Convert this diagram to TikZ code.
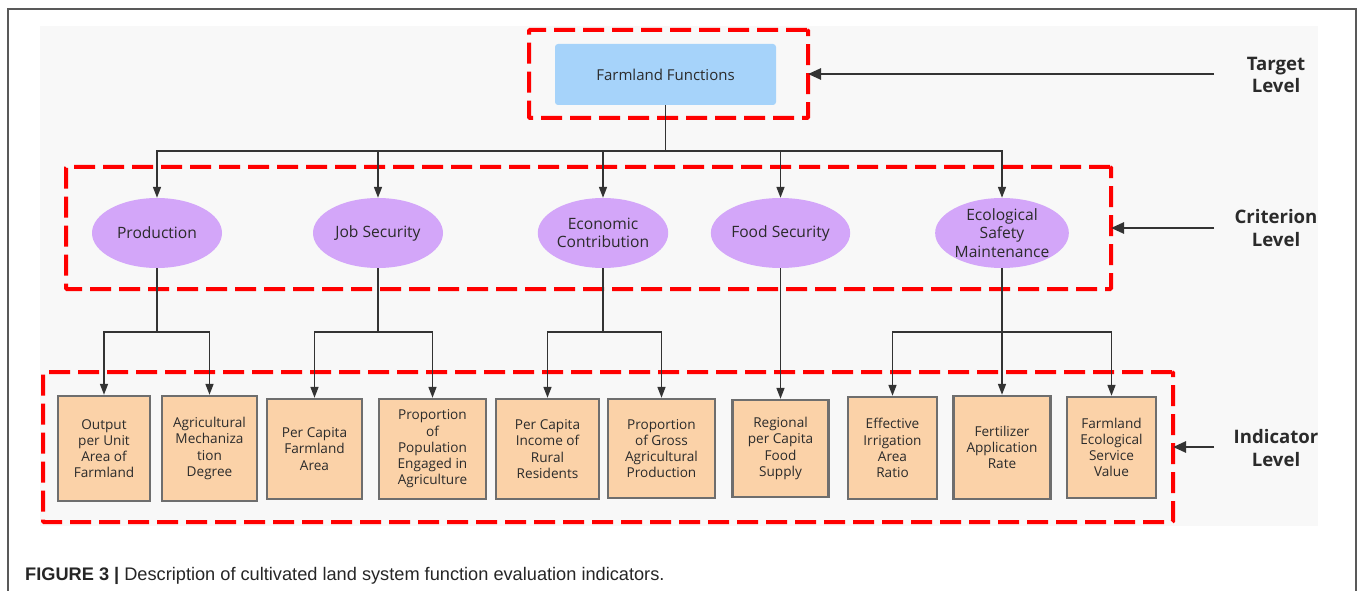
\documentclass[tikz,border=0pt]{standalone}
\usepackage{fontspec}
\setmainfont{Open Sans}
\newfontfamily\capfont{Liberation Sans}
\usetikzlibrary{arrows.meta,shapes.geometric}
\definecolor{txt}{HTML}{2B2B2B}
\definecolor{bgc}{HTML}{F8F8F8}
\definecolor{topfill}{HTML}{A6D3FA}
\definecolor{ellfill}{HTML}{D3A6F9}
\definecolor{boxfill}{HTML}{FBD2A8}
\definecolor{boxline}{HTML}{6E6E6E}
\definecolor{lnc}{HTML}{333333}
\tikzset{
  conn/.style={draw=lnc, line width=1.6pt},
  arr/.style={conn, -{Triangle[length=11pt,width=8pt]}},
  levarr/.style={draw=lnc, line width=2.6pt, -{Triangle[length=13pt,width=11pt]}},
  redbox/.style={draw=red, line width=4pt, dash pattern=on 21pt off 8pt, rounded corners=1pt, inner sep=0pt, outer sep=0pt},
  topbox/.style={fill=topfill, draw=none, rounded corners=3pt, inner sep=0pt, text=txt, font=\fontsize{15}{18}\selectfont},
  crit/.style={ellipse, fill=ellfill, draw=none, minimum width=130pt, minimum height=70pt, inner sep=0pt, align=center, text=txt, font=\fontsize{15.6}{18.3}\selectfont},
  ind/.style={rectangle, fill=boxfill, draw=boxline, line width=2.4pt, inner sep=0pt, align=center, text=txt, font=\fontsize{13.6}{16.2}\selectfont},
  lev/.style={align=center, text=txt, font=\fontsize{18.6}{22.5}\selectfont\bfseries}
}
\begin{document}
\begin{tikzpicture}[x=1pt,y=-1pt]
\useasboundingbox (0,0) rectangle (1358,591);
\fill[white] (0,0) rectangle (1358,591);
% frame and background
\draw[color=black!65, line width=1.2pt] (8,591) -- (8,9) -- (1356,9) -- (1356,591);
\fill[bgc] (40,26) rectangle (1318,526);
% dashed level boxes
\node[redbox, minimum width=279pt, minimum height=88pt] (tbox) at (668.5,74) {};
\node[redbox, minimum width=1045pt, minimum height=122pt] (cbox) at (588.5,228) {};
\node[redbox, minimum width=1130pt, minimum height=150pt] (ibox) at (608,447) {};
% target
\node[topbox, minimum width=221pt, minimum height=61pt] (ff) at (665.5,74.5) {Farmland Functions};
% criteria
\node[crit] (c1) at (157,233) {Production};
\node[crit] (c2) at (378,233) {Job Security};
\node[crit] (c3) at (603,233) {Economic\\Contribution};
\node[crit] (c4) at (780.5,233) {Food Security};
\node[crit] (c5) at (1002,233) {Ecological\\Safety\\Maintenance};
% indicators
\node[ind, minimum width=92pt, minimum height=105pt] (b1) at (104,448.5) {Output\\per Unit\\Area of\\Farmland};
\node[ind, minimum width=95pt, minimum height=105pt] (b2) at (209.5,448.5) {Agricultural\\Mechaniza\\tion\\Degree};
\node[ind, minimum width=95pt, minimum height=100pt] (b3) at (314.5,449) {Per Capita\\Farmland\\Area};
\node[ind, minimum width=107pt, minimum height=100pt] (b4) at (432.5,449) {Proportion\\of\\Population\\Engaged in\\Agriculture};
\node[ind, minimum width=103pt, minimum height=100pt] (b5) at (547.5,449) {Per Capita\\Income of\\Rural\\Residents};
\node[ind, minimum width=107pt, minimum height=99pt] (b6) at (661.5,448.5) {Proportion\\of Gross\\Agricultural\\Production};
\node[ind, minimum width=96pt, minimum height=97pt] (b7) at (780.5,448.5) {Regional\\per Capita\\Food\\Supply};
\node[ind, minimum width=89pt, minimum height=102pt] (b8) at (892.5,448) {Effective\\Irrigation\\Area\\Ratio};
\node[ind, minimum width=97pt, minimum height=103pt] (b9) at (1002,447.5) {Fertilizer\\Application\\Rate};
\node[ind, minimum width=89pt, minimum height=101pt] (b10) at (1111.5,447.5) {Farmland\\Ecological\\Service\\Value};
% connectors top -> criteria
\coordinate (jt) at (665.5,151);
\draw[conn] (ff.south) -- (jt);
\foreach \c in {c1,c2,c3,c4,c5} {\draw[arr] (jt) -| (\c.north);}
% criteria -> indicators
\coordinate (j1) at (157,332);
\coordinate (j2) at (378,332);
\coordinate (j3) at (603,332);
\coordinate (j5) at (1002,332);
\draw[conn] (c1.south) -- (j1);
\draw[arr] (j1) -| (b1.north);
\draw[arr] (j1) -| (b2.north);
\draw[conn] (c2.south) -- (j2);
\draw[arr] (j2) -| (b3.north);
\draw[arr] (j2) -| (b4.north);
\draw[conn] (c3.south) -- (j3);
\draw[arr] (j3) -| (b5.north);
\draw[arr] (j3) -| (b6.north);
\draw[arr] (c4.south) -- (b7.north);
\draw[conn] (c5.south) -- (j5);
\draw[arr] (j5) -| (b8.north);
\draw[arr] (j5) -- (b9.north);
\draw[arr] (j5) -| (b10.north);
% level labels
\node[lev] (lt) at (1276,75) {Target\\Level};
\node[lev] (lc) at (1276,228) {Criterion\\Level};
\node[lev] (li) at (1276,448) {Indicator\\Level};
\coordinate (at) at (1214,74);
\coordinate (ac) at (1214,228);
\coordinate (ai) at (1214,447);
\draw[levarr] (at) -- (tbox.east);
\draw[levarr] (ac) -- (cbox.east);
\draw[levarr] (ai) -- (ibox.east);
% caption
\node[anchor=base west, inner sep=0pt, text=black!85, font=\capfont\fontsize{18.2}{20}\selectfont] (cap) at (25,580) {\textbf{FIGURE 3 |} Description of cultivated land system function evaluation indicators.};
\end{tikzpicture}
\end{document}
